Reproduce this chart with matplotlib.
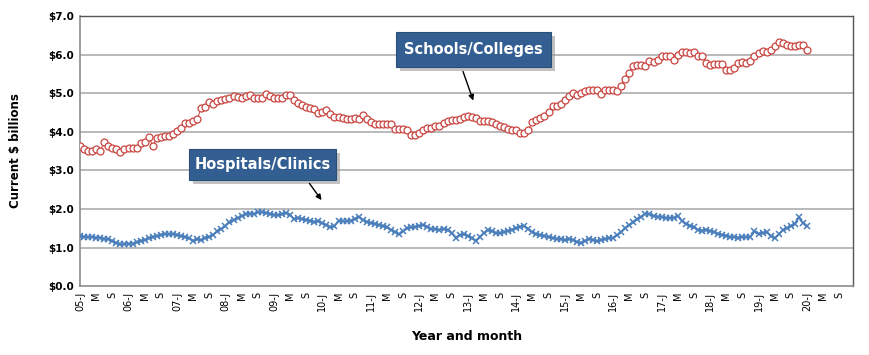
import numpy as np
import matplotlib
matplotlib.use("Agg")
import matplotlib.pyplot as plt
from matplotlib.patches import Rectangle

# Monthly construction values, Jan 2005 .. Jan 2020 (current $ billions)
years = list(range(2005, 2021))
month_letters = ["J", "M", "S"]

schools = [
    3.62, 3.56, 3.49, 3.49, 3.55, 3.51, 3.73, 3.64, 3.57, 3.56, 3.47, 3.55,
    3.57, 3.58, 3.58, 3.72, 3.73, 3.86, 3.64, 3.83, 3.86, 3.88, 3.90, 3.94,
    4.03, 4.10, 4.23, 4.22, 4.27, 4.33, 4.61, 4.65, 4.77, 4.73, 4.80, 4.83,
    4.85, 4.88, 4.92, 4.90, 4.87, 4.92, 4.95, 4.87, 4.87, 4.87, 4.98, 4.92,
    4.87, 4.87, 4.87, 4.96, 4.95, 4.83, 4.74, 4.69, 4.65, 4.61, 4.60, 4.48,
    4.50, 4.56, 4.47, 4.38, 4.38, 4.36, 4.33, 4.33, 4.36, 4.33, 4.43, 4.33,
    4.24, 4.20, 4.20, 4.20, 4.21, 4.21, 4.07, 4.07, 4.07, 4.05, 3.92, 3.92,
    3.98, 4.05, 4.11, 4.11, 4.14, 4.14, 4.22, 4.27, 4.31, 4.31, 4.33, 4.38,
    4.40, 4.37, 4.36, 4.27, 4.27, 4.27, 4.24, 4.21, 4.16, 4.12, 4.07, 4.05,
    4.04, 3.98, 3.98, 4.05, 4.24, 4.31, 4.36, 4.40, 4.50, 4.66, 4.68, 4.73,
    4.81, 4.92, 5.00, 4.96, 5.00, 5.05, 5.09, 5.09, 5.09, 4.98, 5.07, 5.09,
    5.09, 5.06, 5.19, 5.37, 5.52, 5.70, 5.72, 5.74, 5.70, 5.83, 5.80, 5.87,
    5.97, 5.96, 5.96, 5.87, 6.00, 6.06, 6.06, 6.04, 6.07, 5.97, 5.96, 5.78,
    5.72, 5.76, 5.76, 5.76, 5.59, 5.61, 5.65, 5.78, 5.81, 5.78, 5.83, 5.96,
    6.04, 6.09, 6.06, 6.13, 6.23, 6.33, 6.30, 6.26, 6.23, 6.22, 6.26, 6.26,
    6.13,
]

hospitals = [
    1.30, 1.28, 1.27, 1.27, 1.26, 1.25, 1.23, 1.21, 1.18, 1.12, 1.08, 1.09,
    1.10, 1.10, 1.14, 1.18, 1.20, 1.24, 1.27, 1.30, 1.33, 1.35, 1.34, 1.35,
    1.33, 1.30, 1.27, 1.24, 1.18, 1.21, 1.20, 1.26, 1.28, 1.33, 1.42, 1.48,
    1.56, 1.65, 1.71, 1.76, 1.82, 1.86, 1.88, 1.87, 1.91, 1.92, 1.89, 1.88,
    1.85, 1.84, 1.86, 1.90, 1.85, 1.73, 1.76, 1.74, 1.72, 1.70, 1.66, 1.68,
    1.63, 1.58, 1.52, 1.55, 1.70, 1.68, 1.68, 1.70, 1.74, 1.80, 1.72, 1.66,
    1.64, 1.62, 1.58, 1.56, 1.52, 1.46, 1.40, 1.34, 1.42, 1.50, 1.52, 1.54,
    1.56, 1.59, 1.54, 1.48, 1.47, 1.46, 1.48, 1.45, 1.38, 1.26, 1.32, 1.34,
    1.30, 1.24, 1.18, 1.28, 1.38, 1.45, 1.42, 1.38, 1.37, 1.40, 1.44, 1.46,
    1.50, 1.54, 1.56, 1.48, 1.40, 1.34, 1.32, 1.30, 1.27, 1.25, 1.23, 1.21,
    1.20, 1.21, 1.20, 1.15, 1.12, 1.18, 1.22, 1.20, 1.16, 1.20, 1.22, 1.24,
    1.25, 1.32, 1.40, 1.50, 1.58, 1.65, 1.74, 1.80, 1.88, 1.86, 1.82, 1.80,
    1.79, 1.77, 1.76, 1.77, 1.82, 1.70, 1.62, 1.57, 1.52, 1.46, 1.44, 1.46,
    1.42, 1.40, 1.36, 1.33, 1.31, 1.28, 1.27, 1.26, 1.27, 1.27, 1.28, 1.42,
    1.36, 1.38, 1.40, 1.30, 1.24, 1.34, 1.45, 1.50, 1.56, 1.62, 1.78, 1.64,
    1.55,
]

yticks = [0, 1, 2, 3, 4, 5, 6, 7]

RED = "#C9443F"
BLUE = "#4A7EBB"
BOX = "#335E91"
FONT = "DejaVu Sans"

months = np.arange(len(schools))

fig = plt.figure(figsize=(8.7, 3.55), dpi=100)
ax = fig.add_axes([0.092, 0.194, 0.888, 0.761])

for y in yticks[1:-1]:
    ax.axhline(y, color="#B3B3B3", lw=1.3, zorder=0)

ax.plot(months, schools, color=RED, lw=0.7, marker="o", ms=5.0,
        mfc="white", mec=RED, mew=0.9, zorder=3)
ax.plot(months, hospitals, color=BLUE, lw=1.3, marker="x", ms=4.3,
        mec=BLUE, mew=1.1, zorder=3)

# ticks every 4 months: J, M, S
tick_pos = []
tick_lab = []
for i, yr in enumerate(years):
    for k, letter in enumerate(month_letters):
        tick_pos.append(i * 12 + k * 4)
        tick_lab.append(f"{yr % 100:02d}-J" if k == 0 else letter)
ax.set_xticks(tick_pos)
ax.set_xticklabels(tick_lab, rotation=90, fontsize=7, family=FONT)
ax.set_xlim(0, 191.3)

ax.set_ylim(0, 7)
ax.set_yticks(yticks)
ax.set_yticklabels([f"${v:.1f}" for v in yticks], fontsize=7.5,
                   fontweight="bold", family=FONT)
ax.tick_params(length=0, pad=4)

for side in ["left", "bottom"]:
    ax.spines[side].set_color("#8C8C8C")
    ax.spines[side].set_linewidth(1.2)
for side in ["top", "right"]:
    ax.spines[side].set_color("#555555")
    ax.spines[side].set_linewidth(1.0)

ax.set_ylabel("Current $ billions", fontsize=8.5, fontweight="bold",
              family=FONT, labelpad=19)
ax.set_xlabel("Year and month", fontsize=9, fontweight="bold",
              family=FONT, labelpad=14)


def callout(cx, cy, w, h, text, start, end):
    # box sizes in pixels, centre in axes fraction
    bw = w / (0.888 * 870)
    bh = h / (0.761 * 355)
    sx = 4 / (0.888 * 870)
    sy = 4 / (0.761 * 355)
    shadow = Rectangle((cx - bw / 2 + sx, cy - bh / 2 - sy), bw, bh,
                       transform=ax.transAxes, color="#9A9A9A", alpha=0.6,
                       lw=0, clip_on=False, zorder=5)
    box = Rectangle((cx - bw / 2, cy - bh / 2), bw, bh,
                    transform=ax.transAxes, facecolor=BOX,
                    edgecolor="#2A4E7A", lw=0.8, clip_on=False, zorder=6)
    ax.add_patch(shadow)
    ax.add_patch(box)
    ax.text(cx, cy, text, transform=ax.transAxes, ha="center", va="center",
            color="white", fontsize=10.5, fontweight="bold", family=FONT,
            zorder=7)
    ax.annotate("", xy=end, xytext=start,
                arrowprops=dict(arrowstyle="-|>", color="black", lw=1.0,
                                mutation_scale=8), zorder=7)


callout(0.509, 0.876, 155, 35, "Schools/Colleges", (94.6, 5.63), (97.6, 4.74))
callout(0.236, 0.450, 147, 31, "Hospitals/Clinics", (56.4, 2.72), (60.2, 2.17))

fig.savefig("out.png", dpi=100)
